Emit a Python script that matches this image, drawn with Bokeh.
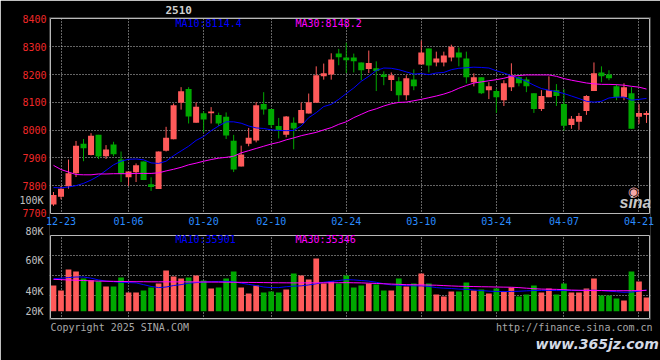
import re
from bokeh.plotting import figure
from bokeh.models import Range1d, FixedTicker, Label, ColumnDataSource, LinearAxis, Title, Grid
from bokeh.embed import file_html
from bokeh.resources import INLINE

# ---------------- data ----------------
dates = ["12-20", "12-23", "12-24", "12-25", "12-26", "12-27", "12-30", "12-31",
         "01-02", "01-03", "01-06", "01-07", "01-08", "01-09", "01-10", "01-13", "01-14", "01-15",
         "01-16", "01-17", "01-20", "01-21", "01-22", "01-23", "01-24", "01-27",
         "02-05", "02-06", "02-07", "02-10", "02-11", "02-12", "02-13", "02-14", "02-17", "02-18",
         "02-19", "02-20", "02-21", "02-24", "02-25", "02-26", "02-27", "02-28",
         "03-03", "03-04", "03-05", "03-06", "03-07", "03-10", "03-11", "03-12", "03-13", "03-14",
         "03-17", "03-18", "03-19", "03-20", "03-21", "03-24", "03-25", "03-26", "03-27", "03-28", "03-31",
         "04-01", "04-02", "04-03", "04-07", "04-08", "04-09", "04-10", "04-11", "04-14", "04-15",
         "04-16", "04-17", "04-18", "04-21", "04-22"]

tick_dates = ["12-23", "01-06", "01-20", "02-10", "02-24", "03-10", "03-24", "04-07", "04-21"]

opens = [7732, 7760, 7798, 7845, 7951, 7910, 7983, 7906, 7948, 7894,
         7830, 7848, 7887, 7805, 7788, 7926, 7967, 8099, 8148, 8027,
         8061, 8061, 8055, 8048, 7962, 7869, 7951, 7963, 8094, 8076,
         8015, 7983, 8027, 8025, 8060, 8099, 8194, 8201, 8276, 8262,
         8262, 8244, 8220, 8223, 8201, 8181, 8176, 8126, 8183, 8237,
         8294, 8244, 8244, 8262, 8280, 8258, 8173, 8191, 8144, 8141,
         8108, 8155, 8191, 8183, 8133, 8076, 8119, 8144, 8094, 8019,
         8030, 8069, 8141, 8208, 8201, 8158, 8119, 8133, 8048, 8055]

closes = [7766, 7789, 7845, 7944, 7935, 7980, 7905, 7930, 7913, 7842,
          7851, 7873, 7820, 7795, 7923, 7973, 8090, 8140, 8049, 8084,
          8038, 8067, 8024, 7981, 7858, 7912, 7973, 8090, 8074, 8019,
          7999, 8049, 8006, 8073, 8101, 8198, 8205, 8255, 8263, 8252,
          8248, 8216, 8242, 8213, 8192, 8198, 8126, 8187, 8158, 8280,
          8233, 8258, 8269, 8301, 8262, 8191, 8191, 8133, 8158, 8119,
          8169, 8198, 8169, 8158, 8076, 8123, 8144, 8123, 8016, 8041,
          8051, 8123, 8205, 8194, 8187, 8119, 8155, 8005, 8062, 8062]

highs = [7777, 7799, 7894, 7961, 7968, 7989, 7983, 7946, 7958, 7923,
         7851, 7880, 7887, 7830, 7923, 8012, 8096, 8155, 8155, 8100,
         8068, 8083, 8063, 8064, 7983, 7944, 8008, 8101, 8137, 8076,
         8044, 8051, 8046, 8100, 8132, 8230, 8240, 8277, 8293, 8315,
         8276, 8244, 8287, 8248, 8212, 8208, 8191, 8198, 8219, 8323,
         8294, 8283, 8283, 8308, 8298, 8283, 8205, 8191, 8173, 8148,
         8180, 8241, 8194, 8191, 8133, 8144, 8194, 8166, 8148, 8051,
         8062, 8126, 8244, 8230, 8216, 8166, 8169, 8155, 8094, 8069]

lows = [7727, 7751, 7789, 7831, 7888, 7909, 7896, 7896, 7906, 7813,
        7799, 7813, 7820, 7781, 7788, 7923, 7967, 8074, 8024, 8027,
        7992, 8024, 8015, 7968, 7849, 7869, 7942, 7956, 8056, 8009,
        7970, 7974, 7931, 8025, 8060, 8099, 8182, 8182, 8234, 8206,
        8208, 8180, 8206, 8141, 8162, 8141, 8101, 8108, 8144, 8237,
        8208, 8230, 8230, 8248, 8230, 8169, 8158, 8130, 8112, 8062,
        8087, 8141, 8158, 8137, 8062, 8069, 8119, 8087, 7998, 8005,
        8001, 8055, 8141, 8173, 8180, 8108, 8108, 8005, 8023, 8026]

ma10 = [7793, 7792, 7795, 7800, 7808, 7820, 7835, 7855, 7875, 7888,
        7895, 7896, 7893, 7882, 7880, 7888, 7908, 7925, 7942, 7963,
        7977, 7998, 8015, 8030, 8030, 8025, 8015, 8008, 8006, 8001,
        7999, 7998, 7999, 8015, 8045, 8063, 8085, 8093, 8111, 8132,
        8152, 8176, 8194, 8215, 8224, 8223, 8218, 8210, 8202, 8204,
        8200, 8206, 8208, 8218, 8223, 8225, 8227, 8226, 8224, 8214,
        8206, 8196, 8187, 8176, 8162, 8150, 8144, 8139, 8132, 8123,
        8114, 8104, 8101, 8104, 8116, 8119, 8119, 8108, 8111, 8114.4]

ma30 = [7873, 7858, 7849, 7840, 7839, 7839, 7842, 7842, 7843, 7843,
        7843, 7844, 7844, 7844, 7846, 7853, 7859, 7866, 7875, 7881,
        7888, 7894, 7899, 7902, 7906, 7918, 7926, 7934, 7942, 7950,
        7956, 7965, 7972, 7980, 7986, 7992, 8001, 8009, 8021, 8030,
        8045, 8057, 8069, 8077, 8087, 8095, 8100, 8101, 8106, 8111,
        8117, 8123, 8130, 8139, 8151, 8161, 8170, 8174, 8178, 8182,
        8187, 8194, 8197, 8199, 8199, 8199, 8199, 8194, 8186, 8180,
        8175, 8170, 8167, 8165, 8165, 8164, 8162, 8158, 8155, 8148.2]

volumes = [43500, 35000, 70600, 67200, 55400, 52500, 50900, 41800, 41800, 57100,
           31600, 31600, 35000, 40100, 46900, 68900, 58800, 55400, 57100, 60500,
           52000, 38400, 40100, 55400, 67200, 40100, 29900, 43500, 31600, 33300,
           31600, 36700, 63800, 60500, 53700, 89300, 46900, 50300, 46900, 60500,
           40100, 43500, 46900, 45200, 35000, 35000, 55400, 41800, 46900, 63800,
           46900, 28300, 24900, 33300, 33300, 48600, 35000, 36700, 29900, 38400,
           33300, 40100, 24900, 28300, 43500, 31600, 38400, 28300, 46900, 31600,
           31600, 38400, 55400, 26600, 26600, 21500, 18100, 67200, 50300, 23200]

vol_ma10 = [55000, 56000, 57000, 58000, 58000, 56000, 53000, 51000, 50000, 49000,
            48500, 48000, 45000, 42000, 40000, 41000, 43500, 45000, 47500, 48500,
            49500, 50000, 50500, 50500, 50000, 47500, 45500, 43500, 41000, 40000,
            40000, 41500, 42500, 43000, 44500, 46500, 49000, 50500, 52000, 53500,
            53000, 52000, 51000, 49000, 46500, 44500, 44000, 43500, 43000, 43000,
            42000, 40000, 39000, 38500, 37500, 37000, 36000, 35000, 34000, 33500,
            33300, 33500, 33800, 34500, 35000, 35300, 35300, 35000, 35000, 35000,
            35000, 35500, 35500, 35000, 34000, 33000, 32000, 32500, 34000, 35901]

vol_ma30 = [54000, 53500, 53000, 52500, 52000, 51500, 51000, 50800, 50600, 50400,
            50200, 50000, 50000, 49800, 49800, 49800, 49700, 49700, 49700, 49600,
            49500, 49400, 49300, 49200, 49000, 48900, 48800, 48700, 48500, 48300,
            48200, 48100, 48000, 48000, 48000, 48000, 48100, 48200, 48300, 48400,
            48200, 48000, 47500, 47000, 46500, 46000, 45500, 45000, 44800, 44600,
            44300, 44000, 43400, 42800, 42300, 42000, 41800, 41500, 41300, 41000,
            40800, 40600, 40000, 39000, 38200, 37500, 37200, 37000, 36500, 35800,
            35500, 35200, 35000, 35000, 34800, 34700, 34700, 34800, 35000, 35346]

price_ticks = [7700, 7800, 7900, 8000, 8100, 8200, 8300, 8400]
price_grid = [7800, 7900, 8000, 8100, 8200, 8300]
# labels printed on the volume scale by the source chart, with the volume levels where they sit
vol_label_text = ["20K", "40K", "60K", "80K", "100K"]
vol_label_pos = [0, 33400, 85900, 135100, 187600]
vol_grid = [26100, 59800, 93900]

# ---------------- layout / styling constants ----------------
RED = "#ff5a5a"
GREEN = "#00a800"
BLUE = "#0000ff"
MAG = "#ff00ff"
MONO = "DejaVu Sans Mono"
GRID = "#c8c8c8"
BOX = "#b8b8b8"

W, H = 660, 360
FL, FR, FT, FB = 49, 650, 17, 319          # plotting frame (page pixels)
BL, BR = 50, 649                          # panel boxes, left/right
P_TOP, P_BOT = 18, 213                    # price box top/bottom
V_TOP, V_BOT = 235, 318                   # volume box top/bottom

n = len(dates)
X0, X1 = -0.4, n - 0.6                    # data x at box edges
xpp = (X1 - X0) / (BR - BL)
PY0, PY1 = 7699.5, 8402.5                 # price at box bottom/top
ppp = (PY1 - PY0) / (P_BOT - P_TOP)
VPP = 1695.2                               # volume per pixel
V_BASE = 310.7                             # pixel row of zero volume


def vol_at(px):
    return (V_BASE - px) * VPP


def price_at(px):
    return PY1 - (px - P_TOP) * ppp


xr = Range1d(X0 - (BL - FL) * xpp, X1 + (FR - BR) * xpp)
yr = Range1d(price_at(FB), price_at(FT))

x = list(range(n))
tick_idx = [dates.index(d) for d in tick_dates]
colors = [RED if c >= o else GREEN for o, c in zip(opens, closes)]
src = ColumnDataSource(dict(
    x=x, h=highs, l=lows,
    top=[max(o, c) for o, c in zip(opens, closes)],
    bot=[min(o, c) for o, c in zip(opens, closes)],
    color=colors, vol=volumes, ma10=ma10, ma30=ma30,
    vma10=vol_ma10, vma30=vol_ma30))


def style_axis(ax, color, standoff=3):
    ax.axis_line_color = None
    ax.major_tick_line_color = None
    ax.minor_tick_line_color = None
    ax.major_tick_out = 0
    ax.major_tick_in = 0
    ax.minor_tick_out = 0
    ax.minor_tick_in = 0
    ax.major_label_standoff = standoff
    ax.major_label_text_font = MONO
    ax.major_label_text_font_size = "10px"
    ax.major_label_text_color = color


p = figure(width=W, height=H, output_backend="svg", toolbar_location=None,
           x_range=xr, y_range=yr,
           extra_y_ranges={"vol": Range1d(vol_at(FB), vol_at(FT))},
           min_border_left=FL, min_border_right=W - FR,
           min_border_top=FT, min_border_bottom=H - FB)
p.background_fill_color = "black"
p.border_fill_color = "black"
p.outline_line_color = None

# grids
for g in (p.xgrid, p.ygrid):
    g.grid_line_color = GRID
    g.grid_line_dash = "1 2"
p.xgrid.ticker = FixedTicker(ticks=tick_idx)
p.ygrid.ticker = FixedTicker(ticks=price_grid)
vgrid = Grid(dimension=1, ticker=FixedTicker(ticks=vol_grid), y_range_name="vol",
             grid_line_color=GRID, grid_line_dash="1 2")
p.add_layout(vgrid)

# axes
p.yaxis.ticker = FixedTicker(ticks=price_ticks)
style_axis(p.yaxis[0], "#f02828")
vax = LinearAxis(y_range_name="vol", ticker=FixedTicker(ticks=vol_label_pos),
                 major_label_overrides=dict(zip(vol_label_pos, vol_label_text)))
style_axis(vax, "#c0c0c0", standoff=-24)
p.add_layout(vax, "left")
p.xaxis.ticker = FixedTicker(ticks=tick_idx)
p.xaxis.major_label_overrides = {i: dates[i] for i in tick_idx}
style_axis(p.xaxis[0], "#2a8cff", standoff=-(FB - P_BOT) + 3)

# blank band between the two panels
p.quad(left=xr.start, right=xr.end, bottom=price_at(V_TOP), top=PY0,
       fill_color="black", line_color=None)

# candles
p.segment(x0="x", y0="h", x1="x", y1="l", source=src, line_color="color", line_width=1)
p.vbar(x="x", width=0.8, top="top", bottom="bot", source=src,
       fill_color="color", line_color=None)
p.line(x="x", y="ma10", source=src, line_color=BLUE, line_width=1)
p.line(x="x", y="ma30", source=src, line_color=MAG, line_width=1)

# volume
p.vbar(x="x", width=0.76, top="vol", bottom=0, source=src, fill_color="color",
       line_color=None, y_range_name="vol")
p.line(x="x", y="vma10", source=src, line_color=BLUE, line_width=1, y_range_name="vol")
p.line(x="x", y="vma30", source=src, line_color=MAG, line_width=1, y_range_name="vol")

# panel boxes
p.quad(left=X0, right=X1, bottom=PY0, top=PY1, fill_color=None, line_color=BOX, line_width=1)
p.quad(left=X0, right=X1, bottom=vol_at(V_BOT), top=vol_at(V_TOP), fill_color=None,
       line_color=BOX, line_width=1, y_range_name="vol")


def lab(sx, sy, text, color, size="10px", align="left", style="normal", font=MONO):
    # sx, sy: page pixels of the text anchor
    p.add_layout(Label(x=sx - FL, y=FB - sy, x_units="screen", y_units="screen", text=text,
                       text_color=color, text_font=font, text_font_size=size,
                       text_align=align, text_baseline="middle", text_font_style=style))


lab(175, 23, "MA10:%.1f" % ma10[-1], BLUE)
lab(295, 23, "MA30:%.1f" % ma30[-1], MAG)
lab(175, 238.5, "MA10:%d" % vol_ma10[-1], BLUE)
lab(295, 238.5, "MA30:%d" % vol_ma30[-1], MAG)
lab(633, 191, "\u25c9", "#f4a8a8", size="13px", align="center", font="DejaVu Sans")
lab(635, 202, "sina", "#c8c8c8", size="16px", align="center", style="bold italic",
    font="Liberation Sans")

p.add_layout(Title(text="2510", align="left", offset=116, text_font=MONO,
                   text_font_size="11px", text_font_style="bold", text_color="#d0d0d0",
                   standoff=7), "above")

foot = "Copyright 2025 SINA.COM" + "\u00a0" * 51 + "http://finance.sina.com.cn"
p.add_layout(Title(text=foot, align="left", offset=1, text_font=MONO, text_font_size="10px",
                   text_font_style="normal", text_color="#a8a8a8", standoff=0), "below")
wm = Title(text="www.365jz.com", align="left", offset=486, text_font="DejaVu Sans",
           text_font_size="14px", text_font_style="bold italic", text_color="#d4dae6",
           standoff=2)
p.add_layout(wm, "below")

html = file_html(p, INLINE, title="2510")
html = re.sub(r"<body([^>]*)>", r'<body\1 style="margin:0;background:#000000;">', html, count=1)
open("out.html", "w").write(html)
